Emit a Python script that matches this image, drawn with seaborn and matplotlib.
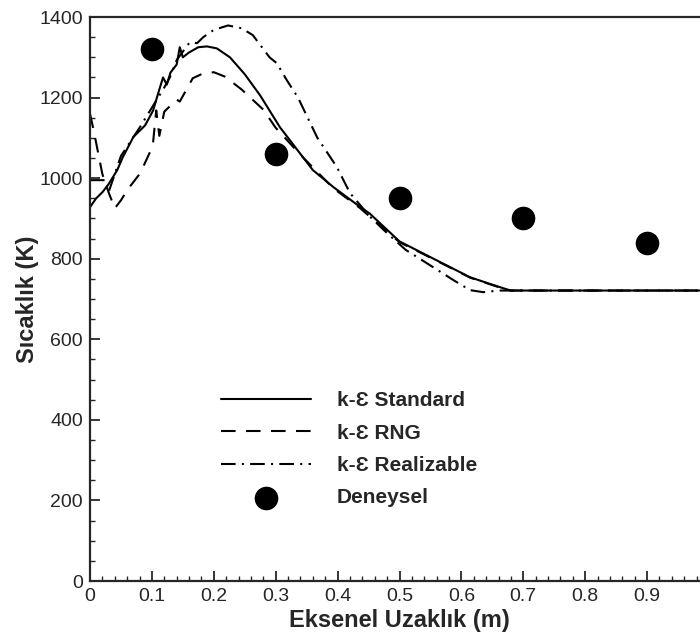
import matplotlib
matplotlib.use("Agg")
import matplotlib.pyplot as plt
import seaborn as sns
from matplotlib.ticker import MultipleLocator

# Standard k-epsilon (solid)
std_x = [0.0, 0.01, 0.02, 0.03, 0.044, 0.053, 0.07, 0.089, 0.102, 0.11, 0.118,
         0.124, 0.13, 0.14, 0.145, 0.15, 0.16, 0.175, 0.189, 0.205, 0.226,
         0.25, 0.275, 0.307, 0.339, 0.36, 0.393, 0.436, 0.452, 0.5, 0.56,
         0.614, 0.645, 0.667, 0.68, 0.75, 0.85, 0.95, 1.0]
std_y = [928, 950, 965, 985, 1020, 1052, 1102, 1131, 1168, 1210, 1250,
         1232, 1262, 1282, 1325, 1300, 1312, 1325, 1327, 1322, 1300,
         1258, 1205, 1126, 1062, 1020, 978, 929, 912, 843, 796,
         754, 738, 727, 721, 721, 721, 721, 721]

# RNG k-epsilon (dashed)
rng_x = [0.0, 0.005, 0.01, 0.02, 0.03, 0.04, 0.05, 0.06, 0.081, 0.097, 0.102,
         0.107, 0.112, 0.12, 0.14, 0.145, 0.166, 0.18, 0.2, 0.218, 0.245,
         0.28, 0.3, 0.34, 0.393, 0.436, 0.5, 0.56, 0.614, 0.667, 0.68, 0.8, 1.0]
rng_y = [1160, 1125, 1087, 1010, 965, 925, 945, 970, 1012, 1065, 1090,
         1168, 1105, 1165, 1195, 1190, 1248, 1258, 1263, 1252, 1220,
         1170, 1125, 1058, 975, 926, 841, 795, 753, 726, 721, 721, 721]

# Realizable k-epsilon (dash-dot)
rea_x = [0.0, 0.024, 0.03, 0.05, 0.08, 0.1, 0.12, 0.129, 0.14, 0.161, 0.173,
         0.183, 0.2, 0.223, 0.245, 0.263, 0.29, 0.302, 0.318, 0.336, 0.367,
         0.399, 0.42, 0.452, 0.474, 0.51, 0.544, 0.587, 0.614, 0.635, 0.66, 1.0]
rea_y = [995, 995, 965, 1055, 1125, 1175, 1225, 1250, 1293, 1337, 1335,
         1350, 1368, 1379, 1372, 1355, 1300, 1285, 1243, 1200, 1101,
         1027, 963, 905, 872, 822, 789, 747, 722, 717, 721, 721]

# Experimental data
exp_x = [0.1, 0.3, 0.5, 0.7, 0.9]
exp_y = [1320, 1060, 950, 900, 840]

labels = ["k-\u0190 Standard", "k-\u0190 RNG", "k-\u0190 Realizable", "Deneysel"]

sns.set_style("ticks")
plt.rcParams["font.family"] = ["Liberation Sans", "DejaVu Sans"]

fig = plt.figure(figsize=(7.0, 6.37), dpi=100)
ax = fig.add_axes([90 / 700, 56 / 637, 619 / 700, 564 / 637])

lw = 1.5
sns.lineplot(x=std_x, y=std_y, ax=ax, color="black", lw=lw, estimator=None,
             sort=False, label=labels[0])
sns.lineplot(x=rng_x, y=rng_y, ax=ax, color="black", lw=lw, estimator=None,
             sort=False, label=labels[1], linestyle=(0, (7, 5)))
sns.lineplot(x=rea_x, y=rea_y, ax=ax, color="black", lw=lw, estimator=None,
             sort=False, label=labels[2], linestyle=(0, (7, 3, 1, 3)))
sns.scatterplot(x=exp_x, y=exp_y, ax=ax, color="black", s=17 ** 2,
                edgecolor="black", linewidth=0, label=labels[3], zorder=5)

ax.set_xlim(0, 1.0)
ax.set_ylim(0, 1400)
ax.xaxis.set_minor_locator(MultipleLocator(0.02))
ax.yaxis.set_major_locator(MultipleLocator(200))
ax.yaxis.set_minor_locator(MultipleLocator(50))
ax.set_xticks([0, 0.1, 0.2, 0.3, 0.4, 0.5, 0.6, 0.7, 0.8, 0.9])
ax.set_xticklabels(["0", "0.1", "0.2", "0.3", "0.4", "0.5", "0.6", "0.7", "0.8", "0.9"])

ax.tick_params(which="major", direction="in", length=7, width=1.3,
               labelsize=14, pad=5, top=False, right=False)
ax.tick_params(which="minor", direction="in", length=3.5, width=1.0,
               top=False, right=False)
for sp in ax.spines.values():
    sp.set_linewidth(1.6)
    sp.set_visible(True)

ax.set_xlabel("Eksenel Uzakl\u0131k (m)", fontsize=17, fontweight="bold", labelpad=3)
ax.set_ylabel("S\u0131cakl\u0131k (K)", fontsize=17, fontweight="bold", labelpad=0)

leg = ax.legend(loc="upper left", bbox_to_anchor=(211 / 700, 1 - 381 / 637),
                bbox_transform=fig.transFigure, frameon=False, borderpad=0,
                handlelength=4.3, handletextpad=1.25, labelspacing=0.64,
                prop={"weight": "bold", "size": 15}, markerscale=1.0)

fig.savefig("out.png", dpi=100)
